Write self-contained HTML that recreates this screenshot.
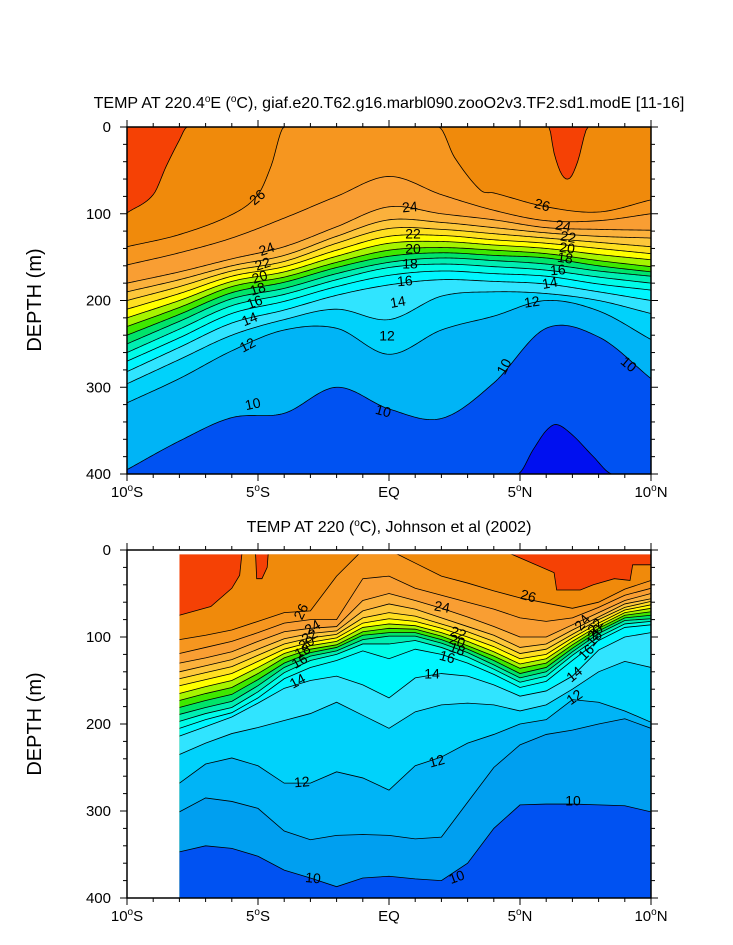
<!DOCTYPE html>
<html><head><meta charset="utf-8"><style>
html,body{margin:0;padding:0;background:#fff;}
svg{display:block;font-family:"Liberation Sans",Arial,sans-serif;}
</style></head><body>
<svg id="fig" width="733" height="945" viewBox="0 0 733 945" xmlns="http://www.w3.org/2000/svg">
<defs>
<clipPath id="clip1"><rect x="127" y="127" width="524" height="347"/></clipPath>
<clipPath id="clip2"><rect x="179.4" y="554.4" width="471.6" height="343.6"/></clipPath>
</defs>
<text x="389" y="108" text-anchor="middle" font-size="16">TEMP AT 220.4<tspan dy="-6" font-size="10">o</tspan><tspan dy="6">E (</tspan><tspan dy="-6" font-size="10">o</tspan><tspan dy="6">C), giaf.e20.T62.g16.marbl090.zooO2v3.TF2.sd1.modE [11-16]</tspan></text>
<text x="389" y="532" text-anchor="middle" font-size="16">TEMP AT 220 (<tspan dy="-6" font-size="10">o</tspan><tspan dy="6">C), Johnson et al (2002)</tspan></text>
<text transform="translate(41,300) rotate(-90)" text-anchor="middle" font-size="20">DEPTH (m)</text>
<text transform="translate(41,724) rotate(-90)" text-anchor="middle" font-size="20">DEPTH (m)</text>
<g id="p1"></g>
<g id="p2"></g>
</svg>
<script>
// ---------- data: panel 1 (model) ----------
const p1Lats = [-10,-8,-6,-4,-2,0,2,4,6,8,10];
const p1Levels = [27,26,25,24,23,22,21,20,19,18,17,16,15,14,13,12,10,9];
const p1Lat27 = [-10,-9,-8.5,-8,-7.7,6.1,6.3,6.6,6.9,7.2,7.6,10];
const p1Dep27 = [99,78,45,15,0,0,30,55,59,40,0,0];
const p1Lat26 = [-10,-8,-6,-5,-4.5,-4,1.9,2.5,3.5,4,6,8,10];
const p1Dep26 = [138,124,101,78,45,0,0,35,73,76,92,98,84];
const p1Dep25 = [159,145,128,105,80,57,78,96,108,108,100];
const p1Dep24 = [180,167,152,138,115,92,100,107,116,118,119];
const p1Dep23 = [190,176,160,148,126,107,110,116,122,126,128];
const p1Dep22 = [200,184,166,155,134,117,118,123,128,133,138];
const p1Dep21 = [210,192,172,161,142,126,125,130,134,140,146];
const p1Dep20 = [220,200,178,167,149,134,132,136,140,147,153];
const p1Dep19 = [230,208,184,173,156,142,139,142,146,154,161];
const p1Dep18 = [240,216,191,179,162,149,145,148,151,160,167];
const p1Dep17 = [250,224,198,186,169,156,151,154,158,166,172];
const p1Dep16 = [260,233,206,193,176,162,158,161,165,173,180];
const p1Dep15 = [270,243,215,201,184,171,166,169,172,181,188];
const p1Dep14 = [282,254,226,211,194,182,176,178,181,190,200];
const p1Dep13 = [296,268,240,222,210,222,195,190,192,200,215];
const p1Dep12 = [318,290,258,234,232,262,234,218,200,212,245];
const p1Dep10 = [395,362,335,330,300,325,336,295,232,242,290];
const p1Lat9 = [-10,4.9,5.5,6.0,6.4,7.0,7.8,8.5,10];
const p1Dep9 = [400,400,372,350,343,355,380,400,400];
const p1Labels = ["26","24","22","20","18","16","14","12","10","24","22","20","18","16","14","12","10","26","24","22","20","18","16","14","12","10","10"];

// ---------- data: panel 2 (observations) ----------
const p2Lats = [-8,-7,-6,-5,-4,-3,-2,-1,0,1,2,3,4,5,6,7,8,9,10];
const p2Levels = [27,26,25,24,23,22,21,20,19,18,17,16,15,14,13,12,11,10];
const p2Lat27 = [-8,-6.8,-6,-5.7,-5.6,-5.1,-5.05,-4.85,-4.65,-4.6,4.3,5.0,6.3,6.4,7.3,7.8,8.6,9.2,9.3,10];
const p2Dep27 = [75,65,44,29,0,0,33,33,20,0,0,9,26,46,46,40,33,35,17,17];
const p2Dep26 = [103,98,92,82,72,70,30,0,0,15,30,38,47,55,61,67,60,45,35];
const p2Dep25 = [119,112,105,95,84,80,80,33,30,44,52,60,68,78,82,78,66,52,44];
const p2Dep24 = [130,124,117,105,94,90,88,58,50,58,67,77,88,100,100,86,72,58,50];
const p2Dep23 = [140,133,126,114,102,96,93,70,62,68,78,88,98,112,108,92,77,62,56];
const p2Dep22 = [148,141,134,121,108,101,97,78,72,76,85,94,105,119,114,97,80,66,59];
const p2Dep21 = [156,149,142,128,114,106,101,84,79,82,90,100,111,125,120,101,84,69,63];
const p2Dep20 = [165,157,150,135,119,110,105,89,85,87,95,105,117,131,125,105,87,72,67];
const p2Dep19 = [173,165,158,142,124,114,109,94,90,91,99,110,122,136,130,109,90,75,71];
const p2Dep18 = [181,173,166,149,130,118,112,98,95,95,103,114,127,142,135,113,93,78,75];
const p2Dep17 = [189,181,174,156,135,122,116,103,99,99,107,118,132,147,140,117,96,81,79];
const p2Dep16 = [197,188,181,163,141,127,120,108,108,104,112,123,137,152,145,121,100,85,82];
const p2Dep15 = [205,195,187,170,148,135,127,116,125,114,120,130,143,158,151,127,104,89,86];
const p2Dep14 = [214,203,192,176,159,150,145,155,170,147,142,145,155,168,162,145,115,100,95];
const p2Dep13 = [235,222,211,204,196,188,175,190,205,186,178,176,178,185,178,160,140,128,135];
const p2Dep12 = [268,246,239,248,268,268,255,262,276,248,238,222,212,200,195,172,175,185,198];
const p2Dep11 = [301,285,289,297,323,333,328,327,328,332,330,290,250,224,212,207,200,194,205];
const p2Dep10 = [347,340,343,352,368,377,387,377,375,378,380,360,320,293,292,292,293,294,301];
const p2Labels = ["26","24","22","20","18","16","14","12","10","26","24","22","20","18","16","14","12","10","10","24","22","20","18","16","14","12"];

// colour of the band just below each level
const bandColor = {27:'#f08a0b',26:'#f6961f',25:'#f99e33',24:'#fbb13c',23:'#fdc73b',22:'#ffe021',21:'#ffff00',20:'#a6f400',19:'#3ee800',18:'#00e46a',17:'#00eeb2',16:'#00fce8',15:'#00f6ff',14:'#30e4ff',13:'#00d2fb',12:'#00b4f6',11:'#009ff0',10:'#0052f2',9:'#0010f0'};
const topColor = '#f54105';

const NS = 'http://www.w3.org/2000/svg';
const X = lat => 127 + (lat + 10) * 26.2;
const Y1 = d => 127 + d * 347 / 400;
const Y2 = d => 550 + d * 348 / 400;

function mk(tag, attrs, parent) {
  const e = document.createElementNS(NS, tag);
  for (const k in attrs) e.setAttribute(k, attrs[k]);
  parent.appendChild(e);
  return e;
}
function sampleSmooth(lats, deps) {
  const n = lats.length, out = [];
  const m = lats.map((_, i) => {
    const a = Math.max(0, i - 1), b = Math.min(n - 1, i + 1);
    return (deps[b] - deps[a]) / (lats[b] - lats[a]);
  });
  for (let i = 0; i < n - 1; i++) {
    const h = lats[i + 1] - lats[i];
    const steps = Math.max(2, Math.ceil(h / 0.08));
    for (let s = 0; s < steps; s++) {
      const t = s / steps, t2 = t * t, t3 = t2 * t;
      const v = (2*t3 - 3*t2 + 1) * deps[i] + (t3 - 2*t2 + t) * h * m[i] + (-2*t3 + 3*t2) * deps[i+1] + (t3 - t2) * h * m[i+1];
      out.push([lats[i] + t * h, Math.max(0, Math.min(400, v))]);
    }
  }
  out.push([lats[n - 1], deps[n - 1]]);
  return out;
}
function sampleLinear(lats, deps) { return lats.map((l, i) => [l, deps[i]]); }

function drawPanel(g, clipId, curves, levels, Y, latMin, topD, labels, labelPos) {
  const cg = mk('g', {'clip-path': 'url(#' + clipId + ')'}, g);
  const bg = mk('rect', {x: X(latMin), y: Y(0), width: X(10) - X(latMin), height: Y(400) - Y(0), fill: topColor}, cg);
  
  
  curves.forEach((pts, i) => {
    let d = 'M' + pts.map(p => X(p[0]).toFixed(2) + ',' + Y(p[1]).toFixed(2)).join('L');
    d += 'L' + X(10) + ',' + Y(400) + 'L' + X(latMin) + ',' + Y(400) + 'Z';
    const band = mk('path', {d: d, fill: bandColor[levels[i]], stroke: 'none'}, cg);
    
    
  });
  curves.forEach((pts, i) => {
    let seg = [];
    const flush = () => {
      if (seg.length > 1) {
        const pl = mk('polyline', {points: seg.map(p => X(p[0]).toFixed(2) + ',' + Y(p[1]).toFixed(2)).join(' '), fill: 'none', stroke: '#000', 'stroke-width': '0.8'}, cg);
        
        
      }
      seg = [];
    };
    pts.forEach(p => { if (p[1] > topD + 0.3 && p[1] < 399.7) seg.push(p); else { if (seg.length) seg.push(p); flush(); seg = [p]; } });
    flush();
  });
  labels.forEach((t, i) => {
    const lp = labelPos[i];
    const tx = mk('text', {x: lp[0], y: lp[1], 'font-size': 14, 'text-anchor': 'middle', 'dominant-baseline': 'middle', transform: 'rotate(' + lp[2] + ' ' + lp[0] + ' ' + lp[1] + ')'}, cg);
    
    
    tx.textContent = t;
  });
}

function drawAxes(g, y0, y1, labelY, Y) {
  mk('rect', {x: 127, y: y0, width: 524, height: y1 - y0, fill: 'none', stroke: '#000', 'stroke-width': 1.5}, g);
  for (let l = -10; l <= 10; l++) {
    const len = l % 5 === 0 ? 7 : 4, x = X(l);
    mk('line', {x1: x, y1: y1, x2: x, y2: y1 + len, stroke: '#000', 'stroke-width': 1}, g);
    mk('line', {x1: x, y1: y0, x2: x, y2: y0 - len, stroke: '#000', 'stroke-width': 1}, g);
  }
  const names = {'-10': ['10', 'S'], '-5': ['5', 'S'], '0': ['EQ', ''], '5': ['5', 'N'], '10': ['10', 'N']};
  for (const k in names) {
    const t = mk('text', {x: X(+k), y: labelY, 'font-size': 15, 'text-anchor': 'middle'}, g);
    
    
    if (names[k][1]) t.innerHTML = names[k][0] + '<tspan dy="-6" font-size="10">o</tspan><tspan dy="6">' + names[k][1] + '</tspan>';
    else t.textContent = names[k][0];
  }
  for (let d = 0; d <= 400; d += 20) {
    const len = d % 100 === 0 ? 7 : 4, y = Y(d);
    mk('line', {x1: 127, y1: y, x2: 127 - len, y2: y, stroke: '#000', 'stroke-width': 1}, g);
    mk('line', {x1: 651, y1: y, x2: 651 + len, y2: y, stroke: '#000', 'stroke-width': 1}, g);
    if (d % 100 === 0) {
      const t = mk('text', {x: 111, y: y + 5, 'font-size': 15, 'text-anchor': 'end'}, g);
      
      
      t.textContent = d;
    }
  }
}

// panel 1
const p1DepRows = [p1Dep25,p1Dep24,p1Dep23,p1Dep22,p1Dep21,p1Dep20,p1Dep19,p1Dep18,p1Dep17,p1Dep16,p1Dep15,p1Dep14,p1Dep13,p1Dep12,p1Dep10];
const p1Curves = [sampleSmooth(p1Lat27, p1Dep27), sampleSmooth(p1Lat26, p1Dep26)]
  .concat(p1DepRows.map(r => sampleSmooth(p1Lats, r)))
  .concat([sampleSmooth(p1Lat9, p1Dep9)]);
const p1LabelPos = [[258,198,-40],[267,250,-20],[263,265,-18],[260,278,-18],[258,290,-18],[255,303,-20],[250,320,-22],[248,346,-28],[253,405,-12],
  [410,208,-5],[413,235,0],[413,250,0],[410,265,0],[405,282,-5],[398,303,-10],[387,337,0],[383,412,15],
  [542,206,15],[563,227,10],[568,238,10],[567,249,8],[565,259,8],[558,271,-5],[550,284,-10],[532,303,-8],[505,367,-62],[628,365,40]];
drawPanel(document.getElementById('p1'), 'clip1', p1Curves, p1Levels, Y1, -10, 0, p1Labels, p1LabelPos);
drawAxes(document.getElementById('p1'), 127, 474, 497, Y1);

// panel 2
const p2DepRows = [p2Dep26,p2Dep25,p2Dep24,p2Dep23,p2Dep22,p2Dep21,p2Dep20,p2Dep19,p2Dep18,p2Dep17,p2Dep16,p2Dep15,p2Dep14,p2Dep13,p2Dep12,p2Dep11,p2Dep10];
const p2Curves = [sampleLinear(p2Lat27, p2Dep27)].concat(p2DepRows.map(r => sampleLinear(p2Lats, r)));
const p2LabelPos = [[302,612,-65],[313,628,-30],[310,637,-30],[307,644,-30],[303,652,-30],[300,662,-30],[298,682,-28],[302,783,-5],[313,879,5],
  [528,597,15],[442,608,10],[458,634,20],[457,642,20],[457,650,20],[447,658,15],[432,675,0],[437,762,-15],[457,878,-20],[573,802,0],
  [583,623,-50],[596,627,-50],[596,633,-50],[595,639,-50],[587,653,-45],[575,675,-40],[575,698,-35]];
drawPanel(document.getElementById('p2'), 'clip2', p2Curves, p2Levels, Y2, -8, 5, p2Labels, p2LabelPos);
drawAxes(document.getElementById('p2'), 550, 898, 921, Y2);
</script>
</body></html>
